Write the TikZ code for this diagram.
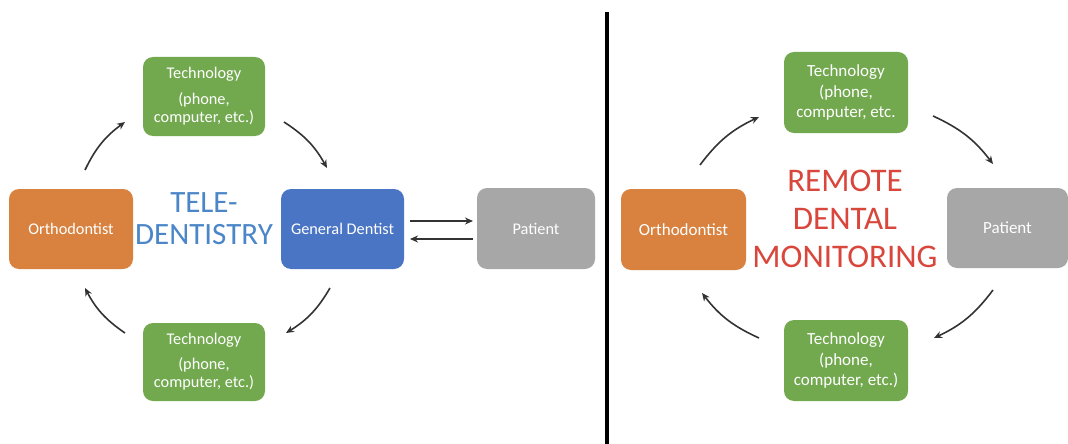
\documentclass[tikz,border=0pt]{standalone}
\usepackage{fontspec}
\setmainfont{Carlito}
\usetikzlibrary{arrows.meta}
\definecolor{cgreen}{HTML}{72A94F}
\definecolor{corange}{HTML}{D9823F}
\definecolor{cblue}{HTML}{4A74C4}
\definecolor{cgray}{HTML}{A7A7A7}
\definecolor{cteleblue}{HTML}{4A86C8}
\definecolor{cred}{HTML}{D9463B}
\definecolor{carrow}{HTML}{333333}
\tikzset{
  box/.style={rounded corners=10pt, text=white, align=center, inner sep=0pt},
  lbox/.style={box, font=\fontsize{16.3}{18}\selectfont},
  rbox/.style={box, font=\fontsize{17}{20.5}\selectfont},
  arr/.style={draw=carrow, line width=1.6pt, -{Stealth[length=8pt,width=7pt]}},
  bigtext/.style={align=center, inner sep=0pt},
}
\begin{document}
\begin{tikzpicture}[x=1pt,y=-1pt]
\useasboundingbox (0,0) rectangle (1068,444);
\fill[white] (0,0) rectangle (1068,444);
% ---------- left panel ----------
\node[lbox, fill=cgreen, minimum width=122pt, minimum height=79pt] (lt) at (204,96.5) {Technology\\[8pt](phone,\\computer, etc.)};
\node[lbox, fill=corange, minimum width=124pt, minimum height=80pt] (lo) at (71,229) {Orthodontist};
\node[lbox, fill=cblue, minimum width=123pt, minimum height=80pt] (lg) at (342.5,229) {General Dentist};
\node[lbox, fill=cgreen, minimum width=122pt, minimum height=78pt] (lb) at (204,362) {Technology\\[7pt](phone,\\computer, etc.)};
\node[lbox, fill=cgray, minimum width=118pt, minimum height=81pt] (lp) at (536,228.5) {Patient};
\node[bigtext, text=cteleblue, font=\fontsize{31}{32}\selectfont] (lt1) at (204,219) {TELE-\\DENTISTRY};
% arrows left
\coordinate (la1s) at (85,170); \coordinate (la1e) at (125,122);
\coordinate (la2s) at (284,122); \coordinate (la2e) at (327,168);
\coordinate (la3s) at (330,288); \coordinate (la3e) at (286,333);
\coordinate (la4s) at (125,333); \coordinate (la4e) at (85,288);
\draw[arr] (la1s) to[bend left=14] (la1e);
\draw[arr] (la2s) to[bend left=14] (la2e);
\draw[arr] (la3s) to[bend left=14] (la3e);
\draw[arr] (la4s) to[bend left=14] (la4e);
\coordinate (lh1s) at (410,221); \coordinate (lh1e) at (473,221);
\coordinate (lh2s) at (473,239); \coordinate (lh2e) at (410,239);
\draw[arr] (lh1s) -- (lh1e);
\draw[arr] (lh2s) -- (lh2e);
% divider
\coordinate (dtop) at (607,12); \coordinate (dbot) at (607,444);
\draw[line width=3.5pt, black] (dtop) -- (dbot);
% ---------- right panel ----------
\node[rbox, fill=cgreen, minimum width=124pt, minimum height=81pt] (rt) at (846,92.5) {Technology\\(phone,\\computer, etc.};
\node[rbox, fill=corange, minimum width=125pt, minimum height=81pt] (ro) at (683.5,229.5) {Orthodontist};
\node[rbox, fill=cgray, minimum width=121pt, minimum height=80pt] (rp) at (1007.5,228) {Patient};
\node[rbox, fill=cgreen, minimum width=124pt, minimum height=81pt] (rb) at (846,360.5) {Technology\\(phone,\\computer, etc.)};
\node[bigtext, text=cred, font=\fontsize{33}{38}\selectfont] (rt1) at (845,219) {REMOTE\\DENTAL\\MONITORING};
\coordinate (ra1s) at (700,165); \coordinate (ra1e) at (759,117);
\coordinate (ra2s) at (933,116); \coordinate (ra2e) at (993,164);
\coordinate (ra3s) at (993,290); \coordinate (ra3e) at (934,338);
\coordinate (ra4s) at (759,338); \coordinate (ra4e) at (702,293);
\draw[arr] (ra1s) to[bend left=14] (ra1e);
\draw[arr] (ra2s) to[bend left=14] (ra2e);
\draw[arr] (ra3s) to[bend left=14] (ra3e);
\draw[arr] (ra4s) to[bend left=14] (ra4e);
\end{tikzpicture}
\end{document}
